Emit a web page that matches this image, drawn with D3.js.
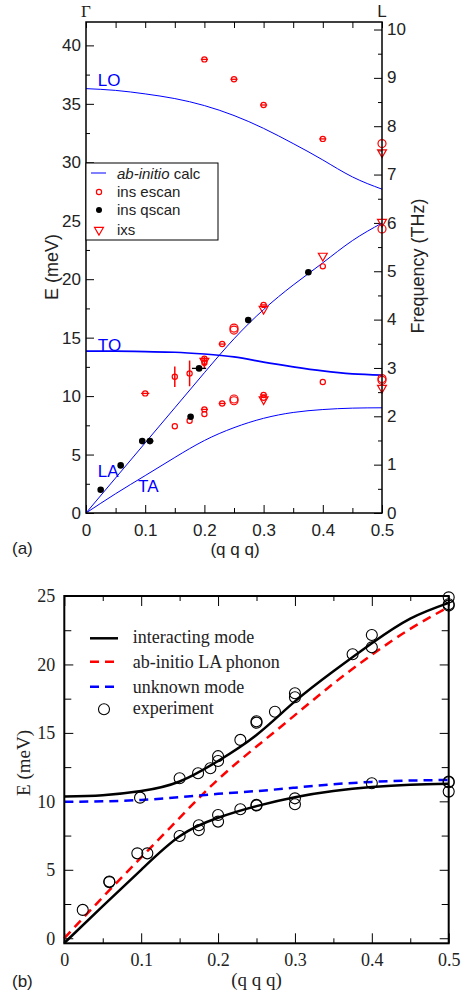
<!DOCTYPE html>
<html>
<head>
<meta charset="utf-8">
<script src="https://cdn.jsdelivr.net/npm/d3@7"></script>
<style>
  body { margin: 0; background: #fff; }
  svg { display: block; }
</style>
</head>
<body>
<div id="chart"></div>
<script>
// wavevector grid used for the calculated branches (r.l.u.)
const qGrid = [0, 0.05, 0.1, 0.15, 0.2, 0.25, 0.3, 0.35, 0.4, 0.45, 0.5];

// (a) ab-initio branches, meV
const calcLO = [36.3, 36.15, 35.85, 35.45, 34.85, 34.0, 32.9, 31.6, 30.2, 28.75, 27.7];
const calcTO = [13.85, 13.85, 13.8, 13.75, 13.6, 13.35, 12.9, 12.5, 12.15, 11.9, 11.8];
const calcLA = [0, 3.0, 6.0, 9.0, 12.0, 14.9, 17.4, 19.5, 21.4, 23.3, 24.8];
const calcTA = [0, 1.65, 3.2, 4.75, 6.2, 7.3, 8.1, 8.6, 8.85, 8.97, 9.0];

// (a) measurements: [q, E, dq, dE]
const insEscan = [
  [0.2, 38.8, 0.006, 0], [0.25, 37.1, 0.006, 0], [0.3, 34.9, 0.006, 0], [0.4, 32.0, 0.006, 0],
  [0.4, 21.1, 0, 0], [0.3, 17.8, 0.006, 0], [0.23, 14.45, 0.006, 0],
  [0.2, 13.2, 0.006, 0], [0.2, 12.85, 0, 0.5], [0.175, 11.94, 0, 1.1], [0.15, 11.65, 0, 0.88],
  [0.1, 10.23, 0.007, 0], [0.4, 11.2, 0, 0], [0.3, 10.1, 0.006, 0], [0.3, 9.85, 0, 0],
  [0.23, 9.37, 0.006, 0], [0.2, 8.86, 0.006, 0], [0.2, 8.46, 0, 0],
  [0.175, 7.89, 0, 0], [0.15, 7.42, 0, 0]
];
const insEscanWide = [
  [0.5, 31.6], [0.5, 24.3], [0.5, 11.5], [0.5, 11.35],
  [0.25, 15.82], [0.25, 15.65], [0.25, 9.75], [0.25, 9.6]
];
const insQscan = [
  [0.0248, 1.99, 0], [0.0586, 4.07, 0], [0.095, 6.15, 0], [0.108, 6.15, 0.006],
  [0.1767, 8.23, 0], [0.191, 12.37, 0.012], [0.274, 16.5, 0], [0.3756, 20.6, 0]
];
const ixs = [
  [0.2, 13.0], [0.3, 17.45], [0.3, 9.72], [0.4, 22.0], [0.5, 30.85], [0.5, 24.9], [0.5, 10.7]
];

// (b) model branches, meV
const modeUpper = [10.35, 10.45, 10.75, 11.45, 12.95, 14.85, 17.3, 19.5, 21.55, 23.35, 24.5];
const modeLower = [-0.35, 2.35, 5.0, 7.45, 8.8, 9.65, 10.3, 10.75, 11.05, 11.22, 11.28];
const abInitioLA = [0, 3.0, 5.9, 8.8, 11.6, 14.0, 16.3, 18.6, 20.7, 22.6, 24.2];
const unknownMode = [9.97, 10.0, 10.1, 10.3, 10.55, 10.75, 11.0, 11.25, 11.42, 11.52, 11.56];

// (b) experiment: [q, E]
const experiment = [
  [0.024, 2.07], [0.0586, 4.14], [0.0586, 4.1], [0.095, 6.2], [0.108, 6.2], [0.0985, 10.27],
  [0.15, 7.47], [0.15, 11.69], [0.174, 12.05], [0.175, 8.25], [0.175, 7.9], [0.19, 12.42],
  [0.2, 9.0], [0.2, 8.52], [0.2, 13.3], [0.2, 12.95], [0.229, 9.42], [0.229, 14.49],
  [0.25, 9.74], [0.25, 9.7], [0.25, 15.85], [0.25, 15.75], [0.274, 16.55],
  [0.3, 17.9], [0.3, 17.6], [0.3, 10.22], [0.3, 9.79], [0.375, 20.74],
  [0.4, 22.15], [0.4, 21.25], [0.4, 11.32],
  [0.5, 24.9], [0.5, 24.4], [0.5, 24.3], [0.5, 11.44], [0.5, 11.4], [0.5, 10.71]
];

const xTicks = [0, 0.1, 0.2, 0.3, 0.4, 0.5];
const xMinor = [0.05, 0.15, 0.25, 0.35, 0.45];
const meVperTHz = 4.1357;

const sans = '"Liberation Sans", Arial, Helvetica, sans-serif';
const serif = '"Liberation Serif", "Times New Roman", serif';
const fmtQ = d => d === 0 ? "0" : d3.format(".1f")(d);

const svg = d3.select("#chart").append("svg")
  .attr("width", 463).attr("height", 993)
  .style("background", "#fff");

const toPts = arr => qGrid.map((q, i) => [q, arr[i]]);

function styleAxis(g, font, size) {
  g.select(".domain").remove();
  g.selectAll("line").attr("stroke", "#000").attr("stroke-width", 1);
  g.selectAll("text").attr("font-family", font).attr("font-size", size).attr("fill", "#222");
}

// ================= panel (a) =================
const xa = d3.scaleLinear().domain([0, 0.5]).range([86, 382]);
const ya = d3.scaleLinear().domain([0, 42]).range([513, 22]);
const yf = d3.scaleLinear().domain([0, 42 / meVperTHz]).range([513, 22]);
const A = svg.append("g");

// axes (ticks inward)
A.append("g").attr("transform", "translate(0,513)")
  .call(d3.axisBottom(xa).tickValues(xTicks).tickSize(-8).tickPadding(11).tickFormat(fmtQ))
  .call(g => styleAxis(g, sans, 17));
A.append("g").attr("transform", "translate(0,513)")
  .call(d3.axisBottom(xa).tickValues(xMinor).tickSize(-5).tickFormat(""))
  .call(g => styleAxis(g, sans, 17));
A.append("g").attr("transform", "translate(0,22)")
  .call(d3.axisTop(xa).tickValues(xTicks.concat(xMinor)).tickSize(-6).tickFormat(""))
  .call(g => styleAxis(g, sans, 17));
A.append("g").attr("transform", "translate(86,0)")
  .call(d3.axisLeft(ya).tickValues(d3.range(0, 41, 5)).tickSize(-8).tickPadding(5))
  .call(g => styleAxis(g, sans, 17));
A.append("g").attr("transform", "translate(86,0)")
  .call(d3.axisLeft(ya).tickValues(d3.range(2.5, 41, 5)).tickSize(-4).tickFormat(""))
  .call(g => styleAxis(g, sans, 17));
A.append("g").attr("transform", "translate(382,0)")
  .call(d3.axisRight(yf).tickValues(d3.range(0, 11, 1)).tickSize(-8).tickPadding(5))
  .call(g => styleAxis(g, sans, 17))
  .call(g => g.selectAll("text").attr("dy", "0.30em"));
A.append("g").attr("transform", "translate(382,0)")
  .call(d3.axisRight(yf).tickValues(d3.range(0.5, 10, 1)).tickSize(-4).tickFormat(""))
  .call(g => styleAxis(g, sans, 17));

// calculated branches
const lineA = d3.line().x(d => xa(d[0])).y(d => ya(d[1])).curve(d3.curveNatural);
[calcLO, calcLA, calcTA].forEach(arr => {
  A.append("path").attr("d", lineA(toPts(arr)))
    .attr("fill", "none").attr("stroke", "#0000ff").attr("stroke-width", 1);
});
A.append("path").attr("d", lineA(toPts(calcTO)))
  .attr("fill", "none").attr("stroke", "#0000ff").attr("stroke-width", 1.7);

// branch labels
[["LO", 0.02, 36.5], ["TO", 0.02, 13.9], ["LA", 0.02, 3.1], ["TA", 0.088, 1.8]].forEach(([t, q, e]) => {
  A.append("text").attr("x", xa(q)).attr("y", ya(e)).text(t)
    .attr("font-family", sans).attr("font-size", 17).attr("fill", "#0000ff");
});

// error bars
const red = "#ff0000";
insEscan.forEach(([q, e, dq, de]) => {
  if (dq > 0) A.append("line").attr("x1", xa(q - dq)).attr("x2", xa(q + dq))
    .attr("y1", ya(e)).attr("y2", ya(e)).attr("stroke", red).attr("stroke-width", 1.3);
  if (de > 0) A.append("line").attr("x1", xa(q)).attr("x2", xa(q))
    .attr("y1", ya(e - de)).attr("y2", ya(e + de)).attr("stroke", red).attr("stroke-width", 1.5);
});
insQscan.forEach(([q, e, dq]) => {
  if (dq > 0) A.append("line").attr("x1", xa(q - dq)).attr("x2", xa(q + dq))
    .attr("y1", ya(e)).attr("y2", ya(e)).attr("stroke", "#000").attr("stroke-width", 1.3);
});

// markers
const tri = d3.symbol().type(d3.symbolTriangle).size(34);
A.selectAll(".ixs").data(ixs).join("path").attr("class", "ixs")
  .attr("d", tri)
  .attr("transform", d => `translate(${xa(d[0])},${ya(d[1])}) rotate(180)`)
  .attr("fill", "none").attr("stroke", red).attr("stroke-width", 1.2);
A.selectAll(".esc").data(insEscan).join("circle").attr("class", "esc")
  .attr("cx", d => xa(d[0])).attr("cy", d => ya(d[1])).attr("r", 2.6)
  .attr("fill", "none").attr("stroke", red).attr("stroke-width", 1.2);
A.selectAll(".escw").data(insEscanWide).join("circle").attr("class", "escw")
  .attr("cx", d => xa(d[0])).attr("cy", d => ya(d[1])).attr("r", 4)
  .attr("fill", "none").attr("stroke", red).attr("stroke-width", 1.2);
A.selectAll(".qsc").data(insQscan).join("circle").attr("class", "qsc")
  .attr("cx", d => xa(d[0])).attr("cy", d => ya(d[1])).attr("r", 3.3)
  .attr("fill", "#000");

// frame
A.append("rect").attr("x", 86).attr("y", 22).attr("width", 296).attr("height", 491)
  .attr("fill", "none").attr("stroke", "#000").attr("stroke-width", 1.5);

// legend (a)
const LA_ = A.append("g");
LA_.append("rect").attr("x", 86).attr("y", 163).attr("width", 132).attr("height", 77)
  .attr("fill", "#fff").attr("stroke", "#000").attr("stroke-width", 1);
LA_.append("line").attr("x1", 91).attr("x2", 106).attr("y1", 173).attr("y2", 173)
  .attr("stroke", "#0000ff").attr("stroke-width", 1);
const t0 = LA_.append("text").attr("x", 117).attr("y", 179)
  .attr("font-family", sans).attr("font-size", 15).attr("fill", "#222");
t0.append("tspan").attr("font-style", "italic").text("ab-initio");
t0.append("tspan").text(" calc");
LA_.append("circle").attr("cx", 99).attr("cy", 192).attr("r", 2.6)
  .attr("fill", "none").attr("stroke", red).attr("stroke-width", 1.2);
LA_.append("circle").attr("cx", 99).attr("cy", 210).attr("r", 3)
  .attr("fill", "#000");
LA_.append("path").attr("d", tri).attr("transform", "translate(99,230) rotate(180)")
  .attr("fill", "none").attr("stroke", red).attr("stroke-width", 1.2);
[["ins escan", 197], ["ins qscan", 215], ["ixs", 235]].forEach(([t, yy]) => {
  LA_.append("text").attr("x", 117).attr("y", yy).text(t)
    .attr("font-family", sans).attr("font-size", 15).attr("fill", "#222");
});

// axis titles (a)
A.append("text").attr("x", xa(0)).attr("y", 17).attr("text-anchor", "middle")
  .attr("font-family", serif).attr("font-size", 17).attr("fill", "#222").text("Γ");
A.append("text").attr("x", xa(0.5)).attr("y", 17).attr("text-anchor", "middle")
  .attr("font-family", sans).attr("font-size", 17).attr("fill", "#222").text("L");
A.append("text").attr("transform", "translate(58,267) rotate(-90)").attr("text-anchor", "middle")
  .attr("font-family", sans).attr("font-size", 18).attr("fill", "#222").text("E (meV)");
A.append("text").attr("transform", "translate(424,266) rotate(-90)").attr("text-anchor", "middle")
  .attr("font-family", sans).attr("font-size", 18).attr("fill", "#222").text("Frequency (THz)");
A.append("text").attr("x", 235).attr("y", 555).attr("text-anchor", "middle")
  .attr("font-family", sans).attr("font-size", 17).attr("fill", "#222").text("(q q q)");
A.append("text").attr("x", 12).attr("y", 554)
  .attr("font-family", sans).attr("font-size", 17).attr("fill", "#222").text("(a)");

// ================= panel (b) =================
const xb = d3.scaleLinear().domain([0, 0.5]).range([64.3, 448.7]);
const yb = d3.scaleLinear().domain([-0.37, 25]).range([943.3, 596]);
const B = svg.append("g");

B.append("g").attr("transform", "translate(0,943.3)")
  .call(d3.axisBottom(xb).tickValues(xTicks).tickSize(-10).tickPadding(10).tickFormat(fmtQ))
  .call(g => styleAxis(g, serif, 18));
B.append("g").attr("transform", "translate(0,943.3)")
  .call(d3.axisBottom(xb).tickValues(xMinor).tickSize(-5).tickFormat(""))
  .call(g => styleAxis(g, serif, 18));
B.append("g").attr("transform", "translate(0,596)")
  .call(d3.axisTop(xb).tickValues(xTicks).tickSize(-10).tickFormat(""))
  .call(g => styleAxis(g, serif, 18));
B.append("g").attr("transform", "translate(0,596)")
  .call(d3.axisTop(xb).tickValues(xMinor).tickSize(-5).tickFormat(""))
  .call(g => styleAxis(g, serif, 18));
B.append("g").attr("transform", "translate(64.3,0)")
  .call(d3.axisLeft(yb).tickValues(d3.range(0, 26, 5)).tickSize(-9).tickPadding(9))
  .call(g => styleAxis(g, serif, 18));
B.append("g").attr("transform", "translate(64.3,0)")
  .call(d3.axisLeft(yb).tickValues(d3.range(2.5, 25, 5)).tickSize(-7).tickFormat(""))
  .call(g => styleAxis(g, serif, 18));
B.append("g").attr("transform", "translate(448.7,0)")
  .call(d3.axisRight(yb).tickValues(d3.range(0, 26, 5)).tickSize(-9).tickFormat(""))
  .call(g => styleAxis(g, serif, 18));
B.append("g").attr("transform", "translate(448.7,0)")
  .call(d3.axisRight(yb).tickValues(d3.range(2.5, 25, 5)).tickSize(-7).tickFormat(""))
  .call(g => styleAxis(g, serif, 18));

const lineB = d3.line().x(d => xb(d[0])).y(d => yb(d[1])).curve(d3.curveNatural);
B.append("path").attr("d", lineB(toPts(abInitioLA)))
  .attr("fill", "none").attr("stroke", "#ff0000").attr("stroke-width", 2.5).attr("stroke-dasharray", "9,6");
B.append("path").attr("d", lineB(toPts(unknownMode)))
  .attr("fill", "none").attr("stroke", "#0000ff").attr("stroke-width", 2.5).attr("stroke-dasharray", "9,6");
[modeUpper, modeLower].forEach(arr => {
  B.append("path").attr("d", lineB(toPts(arr)))
    .attr("fill", "none").attr("stroke", "#000").attr("stroke-width", 2.5);
});

B.selectAll(".exp").data(experiment).join("circle").attr("class", "exp")
  .attr("cx", d => xb(d[0])).attr("cy", d => yb(d[1])).attr("r", 5.5)
  .attr("fill", "none").attr("stroke", "#000").attr("stroke-width", 1.1);

B.append("rect").attr("x", 64.3).attr("y", 596).attr("width", 384.4).attr("height", 347.3)
  .attr("fill", "none").attr("stroke", "#000").attr("stroke-width", 2);

// legend (b)
const legB = [
  ["interacting mode", "#000", null, 638.3, 643],
  ["ab-initio LA phonon", "#ff0000", "9,6", 661.7, 668],
  ["unknown mode", "#0000ff", "9,6", 686.7, 692.5],
];
legB.forEach(([t, c, dash, ly, ty]) => {
  B.append("line").attr("x1", 90).attr("x2", 118).attr("y1", ly).attr("y2", ly)
    .attr("stroke", c).attr("stroke-width", 2.5).attr("stroke-dasharray", dash);
  B.append("text").attr("x", 132.7).attr("y", ty).text(t)
    .attr("font-family", serif).attr("font-size", 18).attr("fill", "#222");
});
B.append("circle").attr("cx", 104).attr("cy", 709.3).attr("r", 5.5)
  .attr("fill", "none").attr("stroke", "#000").attr("stroke-width", 1.1);
B.append("text").attr("x", 132.7).attr("y", 714).text("experiment")
  .attr("font-family", serif).attr("font-size", 18).attr("fill", "#222");

B.append("text").attr("transform", "translate(30,763) rotate(-90)").attr("text-anchor", "middle")
  .attr("font-family", serif).attr("font-size", 19).attr("fill", "#222").text("E (meV)");
B.append("text").attr("x", 256.5).attr("y", 986).attr("text-anchor", "middle")
  .attr("font-family", serif).attr("font-size", 19).attr("fill", "#222").text("(q q q)");
B.append("text").attr("x", 12).attr("y", 987)
  .attr("font-family", sans).attr("font-size", 17).attr("fill", "#222").text("(b)");
</script>
</body>
</html>
